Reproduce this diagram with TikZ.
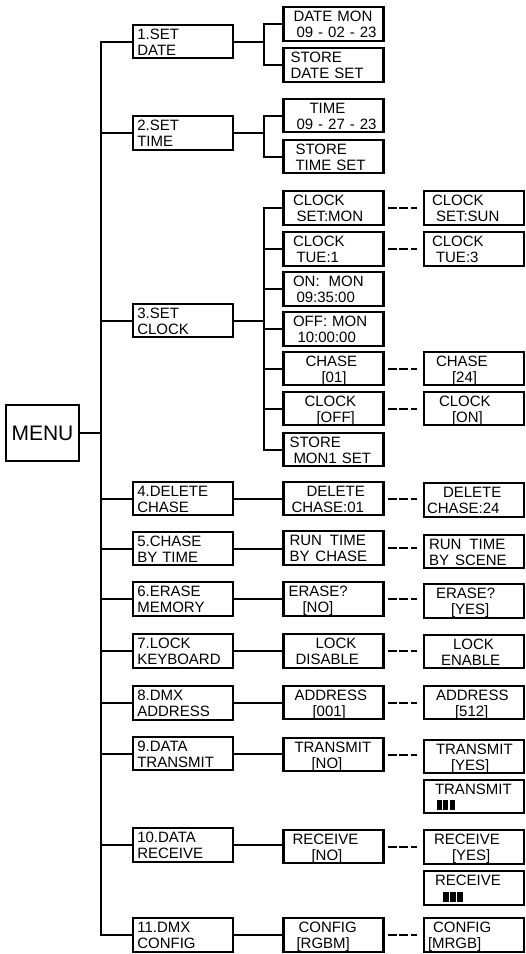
\documentclass[tikz,border=0pt]{standalone}
\usepackage{fontspec}
\setmainfont{Liberation Sans}
\newcommand\Ind[1]{\hspace*{#1pt}}
\newcommand\bars[1]{\rule{#1pt}{10pt}\hspace{1.4pt}\rule{#1pt}{10pt}\hspace{1.4pt}\rule{#1pt}{10pt}}
\tikzset{
  bx/.style={draw, line width=2.1pt, rectangle, inner xsep=0pt, inner ysep=0pt,
    minimum width=100pt, minimum height=33pt, text width=100pt, align=left,
    font=\fontsize{15}{16}\selectfont,
    execute at begin node={\rule{0pt}{14.2pt}},
    execute at end node={\rule[-3.2pt]{0pt}{3.2pt}}},
  mb/.style={bx, inner xsep=4pt, text width=92pt},
  ln/.style={line width=2pt},
  dl/.style={line width=2pt, dash pattern=on 8.5pt off 2.7pt, shorten <=3.7pt, shorten >=6.3pt}
}
\begin{document}
\begin{tikzpicture}[x=1pt,y=-1pt]
\useasboundingbox (0,0) rectangle (526,954);
% root
\node[draw, line width=1.5pt, minimum width=73pt, minimum height=56pt, inner sep=0pt,
  font=\fontsize{21}{24}\selectfont] (menu) at (42.5,433) {MENU};
% level 1
\node[mb] (s1) at (183.3,41.5) {1.SET\\DATE};
\node[mb] (s2) at (183.3,133) {2.SET\\TIME};
\node[mb] (s3) at (183.3,320.5) {3.SET\\CLOCK};
\node[mb] (s4) at (183.3,498.5) {4.DELETE\\CHASE};
\node[mb] (s5) at (183.3,548.5) {5.CHASE\\BY TIME};
\node[mb] (s6) at (183.3,599) {6.ERASE\\MEMORY};
\node[mb] (s7) at (183.3,651) {7.LOCK\\KEYBOARD};
\node[mb] (s8) at (183.3,703) {8.DMX\\ADDRESS};
\node[mb] (s9) at (183.3,753.5) {9.DATA\\TRANSMIT};
\node[mb] (s10) at (183.3,845) {10.DATA\\RECEIVE};
\node[mb] (s11) at (183.3,935) {11.DMX\\CONFIG};
% level 2
\node[bx] (g1a) at (333.5,24) {\Ind{10}DATE MON\\\Ind{13}09 - 02 - 23};
\node[bx] (g1b) at (333.5,65) {\Ind{7}STORE\\\Ind{7}DATE SET};
\node[bx] (g2a) at (333.5,115.5) {\Ind{26}TIME\\\Ind{13}09 - 27 - 23};
\node[bx] (g2b) at (333.5,156.5) {\Ind{12}STORE\\\Ind{12}TIME SET};
\node[bx] (g3a) at (333.5,208) {\Ind{9.5}CLOCK\\\Ind{13}SET:MON};
\node[bx] (g3b) at (333.5,249) {\Ind{9.5}CLOCK\\\Ind{13}TUE:1};
\node[bx] (g3c) at (333.5,289) {\Ind{9.5}ON:\hspace{9pt}MON\\\Ind{13}09:35:00};
\node[bx] (g3d) at (333.5,329) {\Ind{9.5}OFF: MON\\\Ind{14}10:00:00};
\node[bx] (g3e) at (333.5,368.5) {\Ind{22}CHASE\\\Ind{38}[01]};
\node[bx] (g3f) at (333.5,408.5) {\Ind{21}CLOCK\\\Ind{33}[OFF]};
\node[bx] (g3g) at (333.5,449.5) {\Ind{6}STORE\\\Ind{10}MON1 SET};
\node[bx] (g4) at (333.5,498.5) {\Ind{23}DELETE\\\Ind{8}CHASE:01};
\node[bx] (g5) at (333.5,548) {\Ind{6}RUN\hspace{8pt}TIME\\\Ind{6}BY\hspace{6pt}CHASE};
\node[bx] (g6) at (333.5,599) {\Ind{5}ERASE?\\\Ind{19}[NO]};
\node[bx] (g7) at (333.5,651) {\Ind{32}LOCK\\\Ind{12}DISABLE};
\node[bx] (g8) at (333.5,702.5) {\Ind{11}ADDRESS\\\Ind{29}[001]};
\node[bx] (g9) at (333.5,754.5) {\Ind{11}TRANSMIT\\\Ind{28}[NO]};
\node[bx] (g10) at (333.5,846.5) {\Ind{9}RECEIVE\\\Ind{28}[NO]};
\node[bx] (g11) at (333.5,935) {\Ind{15}CONFIG\\\Ind{13}[RGBM]};
% level 3
\node[bx] (h3a) at (474,208) {\Ind{8}CLOCK\\\Ind{12}SET:SUN};
\node[bx] (h3b) at (474,249) {\Ind{8}CLOCK\\\Ind{12}TUE:3};
\node[bx] (h3e) at (474,368.5) {\Ind{12}CHASE\\\Ind{28}[24]};
\node[bx] (h3f) at (474,408.5) {\Ind{15}CLOCK\\\Ind{28}[ON]};
\node[bx] (h4) at (474,500) {\Ind{19}DELETE\\\Ind{3}CHASE:24};
\node[bx] (h5) at (474,551.5) {\Ind{5}RUN\hspace{8pt}TIME\\\Ind{5}BY\hspace{6pt}SCENE};
\node[bx] (h6) at (474,601) {\Ind{12}ERASE?\\\Ind{27}[YES]};
\node[bx] (h7) at (474,651.5) {\Ind{29}LOCK\\\Ind{17}ENABLE};
\node[bx] (h8) at (474,702.5) {\Ind{12}ADDRESS\\\Ind{31}[512]};
\node[bx] (h9a) at (474,756.5) {\Ind{12}TRANSMIT\\\Ind{27}[YES]};
\node[bx] (h9b) at (474,796.5) {\Ind{11}TRANSMIT\\\Ind{13}\bars{5}};
\node[bx] (h10a) at (474,847) {\Ind{10}RECEIVE\\\Ind{28}[YES]};
\node[bx] (h10b) at (474,888) {\Ind{11}RECEIVE\\\Ind{19}\bars{5.8}};
\node[bx] (h11) at (474,935) {\Ind{9}CONFIG\\\Ind{4}[MRGB]};
% trunk
\coordinate (tr) at (101,0);
\coordinate (br) at (264,0);
\draw[ln] (menu.east) -- (menu.east -| tr);
\draw[ln] (s1.west) -| (tr |- s11.west) -- (s11.west);
\foreach \i in {2,...,10} {\draw[ln] (s\i.west) -- (s\i.west -| tr);}
% group branches
\draw[ln] (s1.east) -- (s1.east -| br);
\draw[ln] (g1a.west) -| (br |- g1b.west) -- (g1b.west);
\draw[ln] (s2.east) -- (s2.east -| br);
\draw[ln] (g2a.west) -| (br |- g2b.west) -- (g2b.west);
\draw[ln] (s3.east) -- (s3.east -| br);
\draw[ln] (g3a.west) -| (br |- g3g.west) -- (g3g.west);
\foreach \k in {b,c,d,e,f} {\draw[ln] (g3\k.west) -- (g3\k.west -| br);}
\foreach \i in {4,...,11} {\draw[ln] (s\i.east) -- (s\i.east -| g\i.west);}
% dashed
\draw[dl] (g3a.east) -- (g3a.east -| h3a.west);
\draw[dl] (g3b.east) -- (g3b.east -| h3b.west);
\draw[dl] (g3e.east) -- (g3e.east -| h3e.west);
\draw[dl] (g3f.east) -- (g3f.east -| h3f.west);
\draw[dl] (g4.east) -- (g4.east -| h4.west);
\draw[dl] (g5.east) -- (g5.east -| h5.west);
\draw[dl] (g6.east) -- (g6.east -| h6.west);
\draw[dl] (g7.east) -- (g7.east -| h7.west);
\draw[dl] (g8.east) -- (g8.east -| h8.west);
\draw[dl] (g9.east) -- (g9.east -| h9a.west);
\draw[dl] (g10.east) -- (g10.east -| h10a.west);
\draw[dl] (g11.east) -- (g11.east -| h11.west);
\end{tikzpicture}
\end{document}
